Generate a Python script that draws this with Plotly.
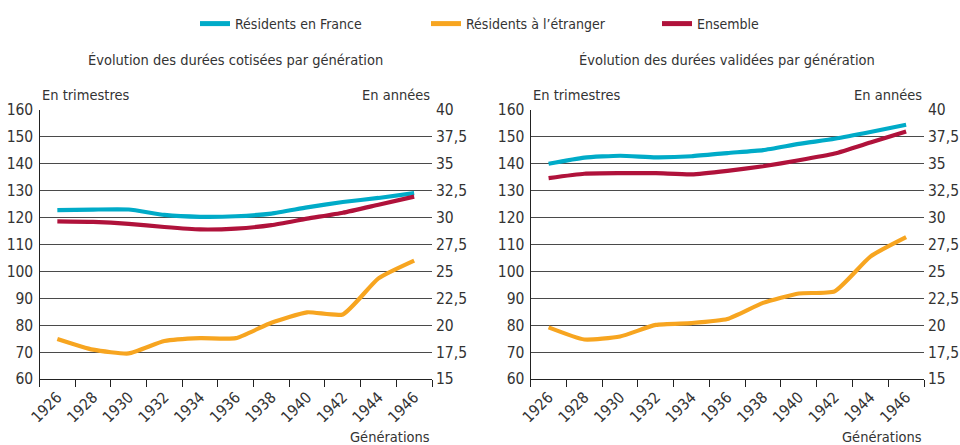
import plotly.graph_objects as go

generations = [1926, 1928, 1930, 1932, 1934, 1936, 1938, 1940, 1942, 1944, 1946]
generation_labels = ["1926", "1928", "1930", "1932", "1934", "1936", "1938", "1940", "1942", "1944", "1946"]

# Durées cotisées (en trimestres)
cot_france = [122.8, 123.0, 123.0, 121.0, 120.3, 120.5, 121.5, 123.8, 125.8, 127.3, 129.1]
cot_etranger = [74.9, 70.9, 69.5, 74.1, 75.2, 75.2, 80.9, 84.8, 84.0, 97.4, 104.0]
cot_ensemble = [118.6, 118.4, 117.7, 116.5, 115.6, 115.9, 117.2, 119.6, 121.8, 124.8, 127.8]

# Durées validées (en trimestres)
val_france = [140.0, 142.3, 143.0, 142.4, 142.8, 144.0, 145.1, 147.4, 149.3, 151.8, 154.5]
val_etranger = [79.2, 74.7, 75.8, 80.1, 80.8, 82.3, 88.3, 91.8, 92.6, 105.5, 112.7]
val_ensemble = [134.7, 136.3, 136.5, 136.5, 136.1, 137.4, 139.1, 141.3, 143.8, 147.9, 152.0]

series_names = ["Résidents en France", "Résidents à l’étranger", "Ensemble"]
colors = ["#00abc8", "#f7a520", "#b0123b"]
titles = ["Évolution des durées cotisées par génération", "Évolution des durées validées par génération"]

FONT = "DejaVu Sans Condensed, DejaVu Sans, sans-serif"
W, H = 960, 445
TXT = "#333"

fig = go.Figure()

panels = [
    ([cot_france, cot_etranger, cot_ensemble], "x", "y"),
    ([val_france, val_etranger, val_ensemble], "x2", "y3"),
]
for p, (data, xa, ya) in enumerate(panels):
    for i, vals in enumerate(data):
        fig.add_trace(go.Scatter(
            x=generations, y=vals, xaxis=xa, yaxis=ya, mode="lines",
            name=series_names[i], legendgroup=series_names[i], showlegend=(p == 0),
            line=dict(color=colors[i], width=4.2, shape="spline", smoothing=0.5),
        ))

# dummy traces to display right axes
for ya, xa in (("y2", "x"), ("y4", "x2")):
    fig.add_trace(go.Scatter(x=[generations[0]], y=[None], xaxis=xa, yaxis=ya,
                             showlegend=False, hoverinfo="skip"))

# pixel geometry
left_x = [(39.5, 432.0), (530.7, 924.0)]
y_top, y_bot = 110, 379
ydom = [(H - y_bot) / H, (H - y_top) / H]

step = generations[1] - generations[0]
boundaries = [g - step / 2 for g in generations] + [generations[-1] + step / 2]

tick_font = dict(family=FONT, size=15.5, color=TXT)
common_x = dict(
    type="linear", range=[boundaries[0], boundaries[-1]],
    tickmode="array", tickvals=generations, ticktext=generation_labels, ticks="",
    minor=dict(tickmode="array", tickvals=boundaries, ticks="outside", ticklen=7,
               tickwidth=1.3, tickcolor="#222", showgrid=False),
    showline=True, linecolor="#222", linewidth=1.3, showgrid=False,
    tickangle=-45, tickfont=tick_font, ticklabelstandoff=2,
    zeroline=False, automargin=False,
)
common_y = dict(
    range=[60, 160], tick0=60, dtick=10, showgrid=True, gridcolor="#4a4a4a", gridwidth=1,
    showline=True, linecolor="#222", linewidth=1.3, ticks="", tickfont=tick_font,
    zeroline=False, ticklabelstandoff=2, automargin=False,
)
common_y2 = dict(
    range=[15, 40], tick0=15, dtick=2.5, showgrid=False, side="right", showline=False,
    ticks="", tickfont=tick_font, zeroline=False, ticklabelstandoff=3, automargin=False,
)

fig.update_layout(
    xaxis=dict(domain=[left_x[0][0] / W, left_x[0][1] / W], anchor="y", **common_x),
    xaxis2=dict(domain=[left_x[1][0] / W, left_x[1][1] / W], anchor="y3", **common_x),
    yaxis=dict(domain=ydom, anchor="x", **common_y),
    yaxis2=dict(domain=ydom, anchor="x", overlaying="y", **common_y2),
    yaxis3=dict(domain=ydom, anchor="x2", **common_y),
    yaxis4=dict(domain=ydom, anchor="x2", overlaying="y3", **common_y2),
)

annotations = []
for p in range(2):
    x0, x1 = left_x[p]
    annotations.append(dict(text=titles[p], x=(x0 + x1) / 2 / W, y=1 - 60 / H, xref="paper", yref="paper",
                            xanchor="center", yanchor="middle", showarrow=False,
                            font=dict(family=FONT, size=14.5, color=TXT)))
    annotations.append(dict(text="En trimestres", x=x0 / W, y=1 - 95 / H, xref="paper", yref="paper",
                            xanchor="left", yanchor="middle", showarrow=False,
                            font=dict(family=FONT, size=14.5, color=TXT)))
    annotations.append(dict(text="En années", x=x1 / W, y=1 - 95 / H, xref="paper", yref="paper",
                            xanchor="right", yanchor="middle", showarrow=False,
                            font=dict(family=FONT, size=14.5, color=TXT)))
    annotations.append(dict(text="Générations", x=x1 / W, y=1 - 437 / H, xref="paper", yref="paper",
                            xanchor="right", yanchor="middle", showarrow=False,
                            font=dict(family=FONT, size=14.5, color=TXT)))

fig.update_layout(
    width=W, height=H, margin=dict(l=0, r=0, t=0, b=0, autoexpand=False),
    paper_bgcolor="white", plot_bgcolor="white",
    separators=", ",
    font=dict(family=FONT, size=14, color=TXT),
    annotations=annotations,
    showlegend=True,
    legend=dict(orientation="h", x=195 / W, xanchor="left", y=1 - 24 / H, yanchor="middle",
                font=dict(family=FONT, size=14, color=TXT), itemwidth=30,
                entrywidth=186, entrywidthmode="pixels",
                tracegroupgap=0, itemsizing="constant", bgcolor="rgba(0,0,0,0)"),
)

fig.write_html("out.html", config={"displayModeBar": False},
               post_script="document.body.style.margin='0';document.body.style.padding='0';")
